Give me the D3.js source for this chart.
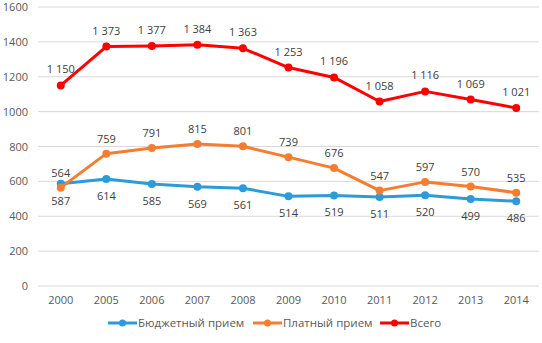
<!DOCTYPE html>
<html><head><meta charset="utf-8">
<script src="https://cdn.jsdelivr.net/npm/d3@7"></script>
<style>body{margin:0;background:#fff}svg{display:block}</style>
</head><body>
<script>
const years = ["2000","2005","2006","2007","2008","2009","2010","2011","2012","2013","2014"];
const budget = [587,614,585,569,561,514,519,511,520,499,486];
const paid = [564,759,791,815,801,739,676,547,597,570,535];
const total = [1150,1373,1377,1384,1363,1253,1196,1058,1116,1069,1021];
const yTicks = [0,200,400,600,800,1000,1200,1400,1600];
const seriesNames = ["Бюджетный прием","Платный прием","Всего"];

const W=542,H=343;
const svg=d3.select("body").append("svg").attr("width",W).attr("height",H);
const font="'Open Sans', 'Liberation Sans', sans-serif";
const x=d3.scaleBand().domain(years).range([38,539]);
const y=d3.scaleLinear().domain([0,1600]).range([286,7]);
const cx=d=>x(d)+x.bandwidth()/2;

svg.append("g").selectAll("line").data(yTicks).join("line")
 .attr("x1",38).attr("x2",539).attr("y1",d=>y(d)).attr("y2",d=>y(d))
 .attr("stroke","#d9d9d9").attr("stroke-width",1);

const yAxis=svg.append("g").attr("transform","translate(38,0)")
 .call(d3.axisLeft(y).tickValues(yTicks).tickFormat(d3.format("d")).tickSize(0).tickPadding(10));
yAxis.select(".domain").remove();
yAxis.selectAll("text").attr("font-family",font).attr("font-size",11).attr("fill","#595959");

const xAxis=svg.append("g").attr("transform","translate(0,286)")
 .call(d3.axisBottom(x).tickSize(0).tickPadding(10));
xAxis.select(".domain").remove();
xAxis.selectAll("text").attr("font-family",font).attr("font-size",11).attr("fill","#595959");

const fmt=v=>{const s=String(v);return s.length>3?s.slice(0,-3)+" "+s.slice(-3):s;};
const series=[
 {name:seriesNames[0],vals:budget,color:"#2E9BD9",dy:21},
 {name:seriesNames[1],vals:paid,color:"#F47D30",dy:-11},
 {name:seriesNames[2],vals:total,color:"#FF0000",dy:-12}
];
const line=d3.line().x((d,i)=>cx(years[i])).y(d=>y(d));
series.forEach(s=>{
 const g=svg.append("g");
 g.append("path").datum(s.vals).attr("d",line).attr("fill","none")
  .attr("stroke",s.color).attr("stroke-width",3).attr("stroke-linejoin","round");
 g.selectAll("circle").data(s.vals).join("circle")
  .attr("cx",(d,i)=>cx(years[i])).attr("cy",d=>y(d)).attr("r",4).attr("fill",s.color);
 g.selectAll("text").data(s.vals).join("text")
  .attr("x",(d,i)=>cx(years[i])).attr("y",d=>y(d)+s.dy)
  .attr("text-anchor","middle").attr("font-family",font).attr("font-size",11)
  .attr("fill","#404040").text(fmt);
});

const legX=[108,253,380];
series.forEach((s,i)=>{
 const g=svg.append("g").attr("transform",`translate(${legX[i]},323)`);
 g.append("line").attr("x1",0).attr("x2",29).attr("stroke",s.color).attr("stroke-width",3);
 g.append("circle").attr("cx",14.5).attr("r",3.5).attr("fill",s.color);
 g.append("text").attr("x",30).attr("y",4).attr("font-family",font).attr("font-size",11.5)
  .attr("fill","#595959").text(s.name);
});
</script>
</body></html>
